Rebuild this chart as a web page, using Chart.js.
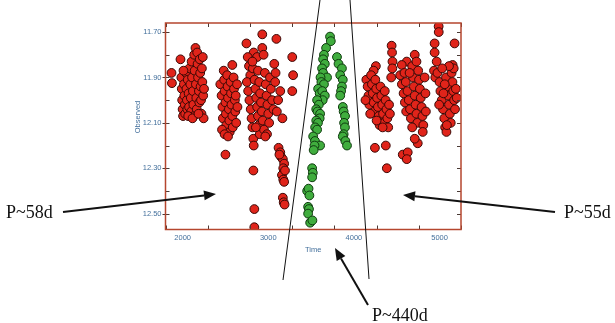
<!DOCTYPE html>
<html>
<head>
<meta charset="utf-8">
<script src="https://cdn.jsdelivr.net/npm/chart.js@4/dist/chart.umd.min.js"></script>
<style>
html,body{margin:0;padding:0;background:#fff;}
canvas{display:block;}
</style>
</head>
<body>
<canvas id="c" width="615" height="323"></canvas>
<script>
// ---- data: [time, observed magnitude] ----
const season1 = [[1870,11.88],[1875,11.925],[1975,11.82],[1985,11.90],[1990,11.95],[1995,12.00],[2000,12.04],[2005,12.07],[2015,11.93],[2020,11.98],[2025,12.02],[2030,12.06],[2040,11.88],[2045,11.95],[2050,12.00],[2055,12.04],[2060,11.91],[2070,11.97],[2075,12.03],[2080,11.86],[2090,11.93],[2095,11.99],[2100,12.05],[2105,11.83],[2110,11.90],[2120,11.96],[2125,12.02],[2130,12.07],[2135,11.80],[2140,11.87],[2150,11.77],[2155,11.93],[2160,11.99],[2165,12.04],[2170,11.79],[2175,11.84],[2180,11.90],[2190,11.96],[2195,12.01],[2200,11.82],[2205,11.88],[2210,11.94],[2215,12.00],[2220,12.06],[2225,11.86],[2230,11.92],[2240,11.98],[2245,12.08],[2235,11.81],[2250,11.95],[2010,11.87],[2065,12.07],[2115,12.08],[2185,12.06]];
const season2 = [[2480,11.87],[2580,11.845],[2440,11.93],[2455,11.98],[2465,12.03],[2470,12.08],[2485,11.91],[2490,11.96],[2500,12.01],[2505,12.06],[2510,12.11],[2520,11.89],[2525,11.94],[2530,11.99],[2540,12.04],[2545,12.09],[2550,12.14],[2560,11.92],[2565,11.97],[2570,12.02],[2580,12.07],[2585,12.12],[2595,11.90],[2600,11.95],[2610,12.00],[2615,12.05],[2625,12.10],[2635,11.93],[2640,12.03],[2460,12.13],[2490,12.15],[2530,12.16],[2620,11.98],[2500,12.24]];
const season3 = [[2930,11.71],[2745,11.75],[3095,11.73],[2830,11.79],[2930,11.77],[2870,11.81],[2945,11.80],[2760,11.81],[2775,11.85],[2790,11.89],[2750,11.92],[2765,11.96],[2780,12.00],[2795,12.04],[2805,12.08],[2815,12.12],[2825,12.17],[2830,12.20],[2820,11.86],[2840,11.91],[2850,11.95],[2860,11.99],[2870,12.03],[2880,12.07],[2890,12.11],[2900,12.15],[2880,11.87],[2895,11.92],[2905,11.97],[2915,12.01],[2925,12.05],[2935,12.09],[2950,12.13],[2960,11.88],[2970,11.93],[2980,11.98],[2990,12.02],[3000,12.06],[3010,12.10],[2985,12.15],[3020,11.90],[3030,11.95],[3045,12.00],[3060,12.04],[3070,11.84],[3085,11.88],[3080,11.92],[3140,11.96],[3115,12.00],[3100,12.05],[3165,12.08],[3280,11.81],[3290,11.89],[3280,11.96],[2826,12.31],[2837,12.48],[2837,12.56],[2855,12.12],[2815,11.83],[2965,12.16]];
const season4 = [[3120,12.21],[3140,12.23],[3150,12.25],[3170,12.26],[3185,12.28],[3175,12.30],[3160,12.33],[3175,12.35],[3185,12.36],[3170,12.43],[3180,12.45],[3190,12.46],[3130,12.24],[3195,12.31]];
const season5 = [[4440,11.76],[4445,11.79],[4450,11.83],[4448,11.86],[4435,11.90],[4256,11.85],[4230,11.87],[4145,11.91],[4160,11.94],[4170,11.98],[4180,12.02],[4200,11.89],[4210,11.93],[4220,11.97],[4230,12.01],[4240,12.05],[4250,11.91],[4260,11.95],[4270,11.99],[4280,12.03],[4290,12.07],[4300,12.11],[4310,11.94],[4320,11.98],[4330,12.02],[4340,12.06],[4350,12.10],[4360,11.96],[4370,12.00],[4380,12.04],[4390,12.08],[4400,12.12],[4410,12.02],[4420,12.06],[4135,12.00],[4190,12.06],[4265,12.09],[4335,12.12],[4245,12.21],[4372,12.20],[4384,12.30]];
const season6 = [[4710,11.80],[4617,11.83],[4558,11.845],[4540,11.89],[4560,11.93],[4580,11.97],[4595,12.01],[4610,12.05],[4590,11.88],[4605,11.92],[4625,11.96],[4640,12.00],[4655,12.04],[4665,12.08],[4680,11.85],[4690,11.90],[4700,11.94],[4710,11.98],[4720,12.02],[4730,12.06],[4740,12.10],[4750,11.87],[4760,11.91],[4770,11.95],[4780,11.99],[4790,12.03],[4800,12.07],[4810,12.11],[4826,11.90],[4835,11.97],[4840,12.05],[4803,12.14],[4745,12.19],[4710,12.17],[4680,12.12],[4570,12.24],[4628,12.23],[4617,12.26],[4730,11.83],[4650,11.88]];
const season7 = [[4989,11.675],[4990,11.70],[4942,11.75],[5175,11.75],[4942,11.79],[4966,11.83],[5152,11.845],[4935,11.87],[4950,11.90],[4975,11.88],[5000,11.92],[5010,11.96],[5025,12.00],[5040,12.04],[5055,12.08],[5065,12.12],[5080,12.14],[5075,11.90],[5090,11.94],[5100,11.98],[5110,12.02],[5120,12.06],[5130,12.10],[5140,11.88],[5150,11.92],[5160,11.96],[5170,12.00],[5180,12.04],[5190,11.95],[5200,11.99],[5165,11.86],[5110,11.85],[5030,11.86],[5060,11.93],[5085,12.11],[4995,12.02],[5045,11.97]];
const greenA = [[3721,11.72],[3730,11.74],[3675,11.77],[3650,11.80],[3640,11.82],[3660,11.84],[3628,11.86],[3640,11.88],[3686,11.90],[3610,11.90],[3620,11.92],[3650,11.93],[3582,11.95],[3600,11.97],[3630,11.96],[3660,11.98],[3635,12.00],[3570,12.00],[3590,12.02],[3560,12.04],[3575,12.05],[3605,12.06],[3600,12.08],[3560,12.09],[3580,12.10],[3547,12.12],[3570,12.13],[3524,12.16],[3545,12.18],[3605,12.20],[3540,12.20],[3530,12.22],[3512,12.30],[3520,12.32],[3512,12.34],[3454,12.40],[3470,12.39],[3480,12.42],[3465,12.47],[3475,12.48],[3465,12.50],[3489,12.54],[3515,12.53]];
const greenB = [[3802,11.81],[3820,11.84],[3860,11.86],[3840,11.89],[3870,11.91],[3860,11.94],[3850,11.96],[3840,11.98],[3870,12.03],[3880,12.05],[3896,12.07],[3885,12.10],[3895,12.12],[3880,12.15],[3870,12.16],[3900,12.18],[3919,12.20]];

const xRange = [1800, 5250];
const yRange = [11.66, 12.57];
const xLabeled = ['2000', '3000', '4000', '5000'];
const yLabeled = ['11.70', '11.90', '12.10', '12.30', '12.50'];
const xTitle = 'Time';
const yTitle = 'Observed';
const notes = ['P~58d', 'P~55d', 'P~440d'];

const toPts = arr => arr.map(p => ({x: p[0], y: p[1]}));
const redPts = toPts([].concat(season1, season2, season3, season4, season5, season6, season7));
const greenPts = toPts([].concat(greenA, greenB));

const AX = '#b5462e', TICK = '#4a3a35', LBL = '#44709c';
const LFONT = '7.5px "Liberation Sans", Arial, sans-serif';

const deco = {
  id: 'deco',
  afterDraw(chart) {
    const ctx = chart.ctx, a = chart.chartArea;
    const xs = chart.scales.x, ys = chart.scales.y;
    ctx.save();
    // ticks
    ctx.strokeStyle = TICK; ctx.lineWidth = 1;
    ctx.beginPath();
    xs.ticks.forEach(t => {
      const px = Math.round(xs.getPixelForValue(t.value)) + 0.5;
      ctx.moveTo(px, a.bottom); ctx.lineTo(px, a.bottom - 4);
      ctx.moveTo(px, a.top); ctx.lineTo(px, a.top + 4);
    });
    ys.ticks.forEach(t => {
      const py = Math.round(ys.getPixelForValue(t.value)) + 0.5;
      const major = yLabeled.indexOf(Number(t.value).toFixed(2)) >= 0;
      ctx.moveTo(a.left - (major ? 3 : 0), py); ctx.lineTo(a.left + 4, py);
      ctx.moveTo(a.right, py); ctx.lineTo(a.right - 4, py);
    });
    ctx.stroke();
    // frame
    ctx.strokeStyle = AX; ctx.lineWidth = 1.5;
    ctx.strokeRect(a.left, a.top, a.right - a.left, a.bottom - a.top);
    // x tick labels
    ctx.fillStyle = LBL;
    ctx.font = LFONT;
    ctx.textAlign = 'center'; ctx.textBaseline = 'middle';
    xLabeled.forEach(s => {
      ctx.fillText(s, xs.getPixelForValue(Number(s)), a.bottom + 8);
    });
    // axis titles
    ctx.fillText(xTitle, (a.left + a.right) / 2, 250);
    ctx.save();
    ctx.translate(138, 117); ctx.rotate(-Math.PI / 2);
    ctx.fillText(yTitle, 0, 0);
    ctx.restore();
    // annotations
    ctx.strokeStyle = '#111'; ctx.fillStyle = '#111';
    ctx.lineWidth = 1;
    ctx.beginPath();
    ctx.moveTo(320, 0); ctx.lineTo(283, 280);
    ctx.moveTo(350, 0); ctx.lineTo(369, 279);
    ctx.stroke();
    const arrow = (x0, y0, x1, y1) => {
      const ang = Math.atan2(y1 - y0, x1 - x0), L = 12, W = 5;
      const bx = x1 - L * Math.cos(ang), by = y1 - L * Math.sin(ang);
      ctx.lineWidth = 2;
      ctx.beginPath(); ctx.moveTo(x0, y0); ctx.lineTo(bx, by); ctx.stroke();
      ctx.beginPath();
      ctx.moveTo(x1, y1);
      ctx.lineTo(bx + W * Math.sin(ang), by - W * Math.cos(ang));
      ctx.lineTo(bx - W * Math.sin(ang), by + W * Math.cos(ang));
      ctx.closePath(); ctx.fill();
    };
    arrow(63, 212, 216, 194);
    arrow(555, 212, 403, 195);
    arrow(368, 305, 335, 248);
    ctx.font = '18px "Liberation Serif", "Times New Roman", serif';
    ctx.textBaseline = 'alphabetic';
    ctx.textAlign = 'left';
    ctx.fillText(notes[0], 6, 218);
    ctx.fillText(notes[1], 564, 218);
    ctx.fillText(notes[2], 372, 321);
    ctx.restore();
  }
};

new Chart(document.getElementById('c'), {
  type: 'scatter',
  data: {
    datasets: [
      {data: redPts, backgroundColor: '#e0241a', borderColor: '#3a0805', borderWidth: 1, pointRadius: 4.4},
      {data: greenPts, backgroundColor: '#40ad3e', borderColor: '#0e3a0e', borderWidth: 1, pointRadius: 4.4}
    ]
  },
  options: {
    responsive: false,
    devicePixelRatio: 1,
    animation: false,
    layout: {padding: {top: 23, right: 154, left: 0, bottom: 0}},
    plugins: {legend: {display: false}, tooltip: {enabled: false}},
    scales: {
      x: {
        type: 'linear', min: xRange[0], max: xRange[1],
        grid: {display: false, drawTicks: false},
        border: {display: false},
        ticks: {
          display: false, stepSize: 500, includeBounds: false, autoSkip: false
        },
        afterFit: s => { s.height = 93.5; }
      },
      y: {
        type: 'linear', min: yRange[0], max: yRange[1], reverse: true,
        grid: {display: false, drawTicks: false},
        border: {display: false},
        ticks: {
          stepSize: 0.1, includeBounds: false, autoSkip: false,
          padding: 4, color: LBL,
          font: {size: 7.5, family: '"Liberation Sans", Arial, sans-serif'},
          callback: v => { const s = Number(v).toFixed(2); return yLabeled.indexOf(s) >= 0 ? s : ''; }
        },
        afterFit: s => { s.width = 165.5; }
      }
    }
  },
  plugins: [deco]
});
</script>
</body>
</html>
